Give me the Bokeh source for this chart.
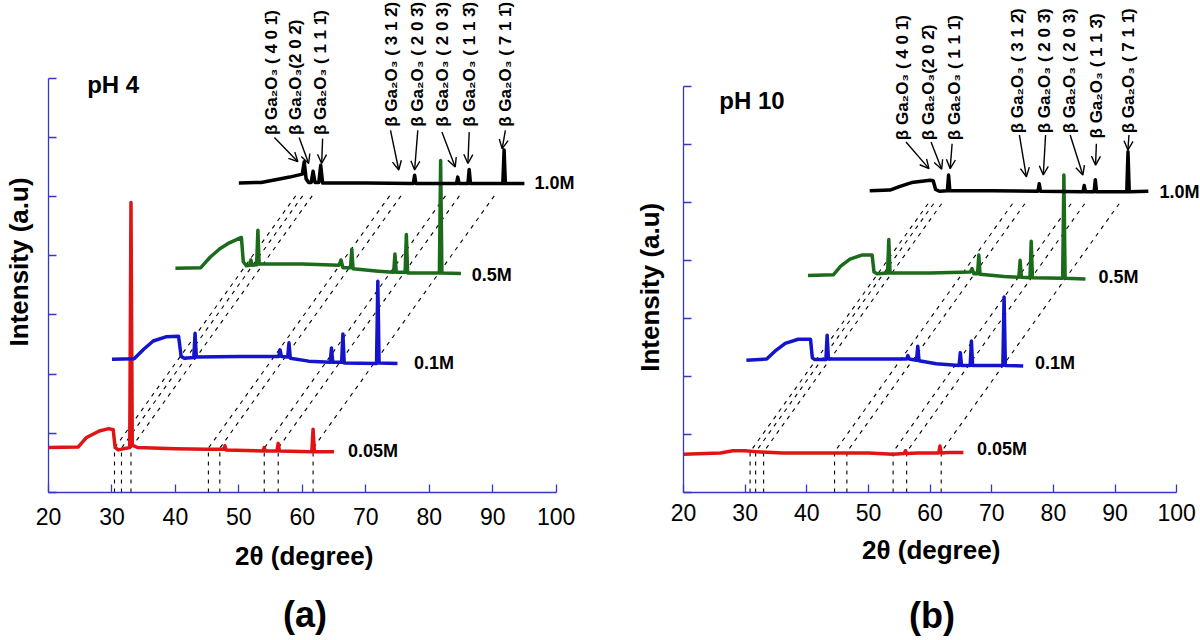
import math
from bokeh.plotting import figure
from bokeh.models import Range1d, FixedTicker, LinearAxis, Label, Arrow, OpenHead
from bokeh.layouts import row
from bokeh.embed import file_html
from bokeh.resources import INLINE

# ---------------- shared ----------------
x_ticks = [20, 30, 40, 50, 60, 70, 80, 90, 100]
y_ticks = [0, 1, 2, 3, 4, 5, 6, 7]
phase = "\u03b2 Ga\u2082O\u2083"
planes = ["( 4 0 1\u0304)", "(2 0 2\u0304)", "( 1 1 1\u0304)", "( 3 1 2\u0304)",
          "( 2 0 3\u0304)", "( 2 0 3)", "( 1 1 3\u0304)", "( 7 1 1\u0304)"]
series_names = ["0.05M", "0.1M", "0.5M", "1.0M"]
series_colors = ["#e01414", "#1414cc", "#1b6b1b", "#000000"]
x_title = "2\u03b8 (degree)"
y_title = "Intensity (a.u)"

# ---------------- panel (a): pH 4 ----------------
a_red_x = [20, 24.7, 26, 28, 29.5, 30.2, 30.5, 31.0, 32.8, 33.0, 33.2, 34, 40, 45, 47.6, 47.8, 48.0,
           53.8, 54.0, 54.2, 56.0, 56.2, 56.4, 61.5, 61.7, 61.9, 65]
a_red_y = [0.76, 0.77, 0.93, 1.04, 1.08, 1.06, 0.76, 0.72, 0.76, 4.90, 0.80, 0.76, 0.74, 0.73, 0.73, 0.79, 0.72,
           0.70, 0.76, 0.70, 0.70, 0.83, 0.70, 0.69, 1.07, 0.69, 0.69]
a_blue_x = [30, 33.5, 35, 36.5, 38.5, 40.5, 40.9, 41.4, 42.9, 43.1, 43.3, 50, 56.3, 56.5, 56.7, 57.7, 57.9,
            58.1, 61, 64.4, 64.6, 64.8, 66.2, 66.4, 66.6, 71.7, 71.9, 72.1, 75]
a_blue_y = [2.25, 2.26, 2.42, 2.56, 2.63, 2.64, 2.30, 2.27, 2.28, 2.69, 2.29, 2.30, 2.30, 2.41, 2.30, 2.29, 2.53,
            2.27, 2.22, 2.20, 2.44, 2.20, 2.20, 2.68, 2.19, 2.18, 3.57, 2.19, 2.18]
a_green_x = [40, 44, 45.5, 47, 48.5, 50.4, 50.7, 51.2, 51.7, 51.9, 52.1, 52.8, 53.0, 53.2, 60, 65.8, 66.1,
             66.4, 67.6, 67.8, 68.0, 72, 74.4, 74.6, 74.8, 76.2, 76.4, 76.6, 81.6, 81.8, 82.0, 85]
a_green_y = [3.79, 3.80, 3.98, 4.12, 4.22, 4.31, 3.90, 3.83, 3.84, 3.93, 3.84, 3.85, 4.43, 3.86, 3.86, 3.84, 3.93,
             3.80, 3.80, 4.11, 3.78, 3.74, 3.72, 4.03, 3.72, 3.72, 4.36, 3.71, 3.71, 5.61, 3.71, 3.70]
a_black_x = [50, 53.5, 56, 58, 60.0, 60.3, 60.6, 61.0, 61.4, 61.7, 62.0, 62.6, 62.9, 63.2, 70, 77.5, 77.7,
             77.9, 84.3, 84.5, 84.7, 86.1, 86.3, 86.5, 91.6, 91.8, 92.0, 95]
a_black_y = [5.23, 5.24, 5.29, 5.33, 5.38, 5.59, 5.30, 5.24, 5.24, 5.43, 5.24, 5.24, 5.53, 5.23, 5.23, 5.22, 5.36,
             5.22, 5.22, 5.33, 5.22, 5.22, 5.46, 5.22, 5.22, 5.79, 5.22, 5.22]
a_ref_x = [30.4, 31.5, 33.0, 45.2, 47.0, 54.0, 56.2, 61.7]
a_ref_shift = 29.0
a_ref_low, a_ref_high = 0.75, 5.08
a_lab_x = [55.2, 59.0, 62.9, 74.0, 78.2, 82.1, 86.3, 92.0]
a_lab_y = [6.04, 6.04, 6.04, 6.18, 6.18, 6.18, 6.18, 6.18]
a_arr_x0 = [55.6, 59.5, 63.2, 73.9, 78.2, 82.0, 86.3, 92.0]
a_arr_y0 = [6.00, 6.00, 5.98, 6.12, 6.12, 6.09, 6.09, 6.12]
a_arr_x1 = [59.3, 61.0, 63.05, 75.2, 77.7, 84.1, 86.1, 91.5]
a_arr_y1 = [5.59, 5.56, 5.56, 5.45, 5.45, 5.50, 5.56, 5.81]
a_name_x = [67.2, 77.6, 86.7, 96.6]
a_name_y = [0.70, 2.19, 3.67, 5.23]

# ---------------- panel (b): pH 10 ----------------
b_red_x = [20, 26, 28, 30, 32, 36, 45, 50, 54, 55.8, 56.0, 56.2, 58, 61.4, 61.6, 61.8, 63, 65.4]
b_red_y = [0.66, 0.68, 0.72, 0.72, 0.70, 0.68, 0.68, 0.68, 0.66, 0.67, 0.72, 0.67, 0.68, 0.68, 0.80, 0.68, 0.69, 0.69]
b_blue_x = [30.2, 33.5, 35, 36.5, 38.6, 40.6, 40.9, 41.3, 43.1, 43.3, 43.5, 50, 56.2, 56.4, 56.6, 57.8, 58.0,
            58.2, 61, 64.7, 64.9, 65.1, 66.5, 66.7, 66.9, 71.8, 72.0, 72.2, 75.1]
b_blue_y = [2.28, 2.30, 2.45, 2.57, 2.64, 2.64, 2.32, 2.29, 2.29, 2.71, 2.30, 2.30, 2.30, 2.36, 2.30, 2.28, 2.52,
            2.27, 2.22, 2.19, 2.41, 2.19, 2.19, 2.61, 2.19, 2.19, 3.37, 2.19, 2.18]
b_green_x = [40.2, 44.3, 45.5, 47, 48.9, 50.6, 50.9, 51.4, 53.1, 53.3, 53.5, 60, 66.5, 66.8, 67.1, 67.7, 67.9,
             68.1, 72, 74.4, 74.6, 74.8, 76.2, 76.4, 76.6, 81.5, 81.7, 81.9, 85.2]
b_green_y = [3.74, 3.75, 3.90, 4.02, 4.09, 4.09, 3.80, 3.77, 3.78, 4.36, 3.78, 3.78, 3.80, 3.86, 3.77, 3.77, 4.09,
             3.76, 3.72, 3.71, 4.00, 3.71, 3.70, 4.33, 3.70, 3.69, 5.47, 3.69, 3.68]
b_black_x = [50.2, 53.5, 55, 57, 60, 60.5, 60.9, 61.5, 62.8, 63.0, 63.2, 70, 77.5, 77.7, 77.9, 84.8, 85.0, 85.2,
             86.6, 86.8, 87.0, 91.9, 92.1, 92.3, 95.4]
b_black_y = [5.20, 5.21, 5.27, 5.34, 5.38, 5.37, 5.22, 5.19, 5.20, 5.47, 5.20, 5.20, 5.19, 5.32, 5.19, 5.18, 5.29,
             5.18, 5.18, 5.39, 5.18, 5.18, 5.87, 5.18, 5.19]
b_ref_x = [30.8, 31.7, 33.0, 44.5, 46.5, 54.0, 56.2, 61.8]
b_ref_shift = 29.3
b_ref_low, b_ref_high = 0.70, 5.04
b_lab_x = [55.46, 59.82, 63.88, 74.18, 78.54, 82.59, 86.97, 92.26]
b_lab_y = [6.07, 6.07, 6.07, 6.19, 6.19, 6.19, 6.10, 6.19]
b_arr_x0 = [56.09, 60.15, 63.57, 74.48, 78.73, 82.72, 86.97, 92.26]
b_arr_y0 = [6.04, 6.04, 6.01, 6.16, 6.16, 6.16, 6.01, 6.16]
b_arr_x1 = [59.82, 61.88, 63.26, 75.62, 78.36, 84.78, 86.84, 92.08]
b_arr_y1 = [5.58, 5.57, 5.58, 5.44, 5.47, 5.47, 5.64, 5.90]
b_name_x = [67.6, 77.0, 87.3, 97.2]
b_name_y = [0.75, 2.23, 3.72, 5.18]

FONT = "Liberation Sans"
AXIS_C = "#3636c8"
NB = "\u00a0"


def style_axis(ax):
    ax.axis_line_color = AXIS_C
    ax.axis_line_width = 1.3
    ax.major_tick_line_color = AXIS_C
    ax.major_tick_line_width = 1.3
    ax.minor_tick_line_color = None
    ax.major_tick_in = 8
    ax.major_tick_out = 0


def make_panel(series, ref_x, ref_shift, ref_low, ref_high, lab_x, lab_y, arr, name_x, name_y,
               ph_text, ph_xy, caption, borders, x_end, y_end, cfg):
    bl, br, bt, bb = borders
    p = figure(width=600, height=640, x_range=Range1d(20, x_end), y_range=Range1d(0, y_end),
               x_axis_type=None, y_axis_type=None, output_backend="svg", toolbar_location=None,
               min_border_left=bl, min_border_right=br, min_border_top=bt, min_border_bottom=bb)
    p.outline_line_color = None

    xa = LinearAxis(ticker=FixedTicker(ticks=x_ticks), bounds=(20, 100),
                    axis_label=x_title + NB * cfg["x_pad"])
    style_axis(xa)
    xa.major_label_text_font = FONT
    xa.major_label_text_font_size = "23px"
    xa.major_label_text_color = "black"
    xa.major_label_standoff = cfg["tick_standoff"]
    xa.axis_label_text_font = FONT
    xa.axis_label_text_font_size = "26px"
    xa.axis_label_text_font_style = "bold"
    xa.axis_label_text_color = "black"
    xa.axis_label_standoff = cfg["xlab_standoff"]
    p.add_layout(xa, "below")

    ca = LinearAxis(ticker=FixedTicker(ticks=[]), axis_label=caption + NB * 2)
    ca.axis_line_color = None
    ca.major_tick_line_color = None
    ca.minor_tick_line_color = None
    ca.major_tick_in = 0
    ca.major_tick_out = 0
    ca.major_label_standoff = 0
    ca.axis_label_text_font = FONT
    ca.axis_label_text_font_size = "36px"
    ca.axis_label_text_font_style = "bold"
    ca.axis_label_text_color = "black"
    ca.axis_label_standoff = cfg["cap_standoff"]
    p.add_layout(ca, "below")

    ya = LinearAxis(ticker=FixedTicker(ticks=y_ticks), bounds=(0, 7),
                    axis_label=y_title + NB * cfg["y_pad"])
    style_axis(ya)
    ya.major_label_text_font_size = "1px"
    ya.major_label_text_color = None
    ya.major_label_standoff = 0
    ya.axis_label_text_font = FONT
    ya.axis_label_text_font_size = "26px"
    ya.axis_label_text_font_style = "bold"
    ya.axis_label_text_color = "black"
    ya.axis_label_standoff = cfg["y_standoff"]
    p.add_layout(ya, "left")

    # dashed guide lines: vertical from the axis to the lowest pattern, then diagonal up to the top pattern
    xs = [[x0, x0, x0 + ref_shift] for x0 in ref_x]
    ys = [[0, ref_low, ref_high] for _ in ref_x]
    p.multi_line(xs, ys, line_color="black", line_width=1.1, line_dash="4 5")

    for (sx, sy), color in zip(series, series_colors):
        p.line(sx, sy, line_color=color, line_width=3.5, line_join="round")

    for name, nx, ny in zip(series_names, name_x, name_y):
        p.add_layout(Label(x=nx, y=ny, text=name, text_align="left", text_baseline="middle",
                           text_font=FONT, text_font_size="18px", text_font_style="bold",
                           text_color="black"))

    ax0, ay0, ax1, ay1 = arr
    for i, plane in enumerate(planes):
        txt = phase + plane if i == 1 else phase + " " + plane
        p.add_layout(Label(x=lab_x[i], y=lab_y[i], text=txt,
                           angle=math.pi / 2, text_align="left", text_baseline="middle",
                           text_font=FONT, text_font_size="17px", text_font_style="bold",
                           text_color="black"))
        p.add_layout(Arrow(x_start=ax0[i], y_start=ay0[i], x_end=ax1[i], y_end=ay1[i],
                           line_color="black", line_width=1.4,
                           end=OpenHead(size=9, line_color="black", line_width=1.4)))

    p.add_layout(Label(x=ph_xy[0], y=ph_xy[1], text=ph_text, text_align="left", text_baseline="middle",
                       text_font=FONT, text_font_size="24px", text_font_style="bold", text_color="black"))
    return p


pa = make_panel([(a_red_x, a_red_y), (a_blue_x, a_blue_y), (a_green_x, a_green_y), (a_black_x, a_black_y)],
                a_ref_x, a_ref_shift, a_ref_low, a_ref_high, a_lab_x, a_lab_y,
                (a_arr_x0, a_arr_y0, a_arr_x1, a_arr_y1), a_name_x, a_name_y,
                "pH 4", (26.1, 6.9), "(a)", (46, 19, 2, 142), 104.0, 496 / 59.9,
                dict(x_pad=3, y_pad=4, tick_standoff=15, xlab_standoff=13, cap_standoff=20, y_standoff=15))
pb = make_panel([(b_red_x, b_red_y), (b_blue_x, b_blue_y), (b_green_x, b_green_y), (b_black_x, b_black_y)],
                b_ref_x, b_ref_shift, b_ref_low, b_ref_high, b_lab_x, b_lab_y,
                (b_arr_x0, b_arr_y0, b_arr_x1, b_arr_y1), b_name_x, b_name_y,
                "pH 10", (25.8, 6.76), "(b)", (83, 0, 2, 148), 20 + 517 / 6.165, 490 / 58.04,
                dict(x_pad=3, y_pad=11, tick_standoff=11, xlab_standoff=11, cap_standoff=27, y_standoff=19))

layout = row(pa, pb)
open("out.html", "w").write(file_html(layout, INLINE))
